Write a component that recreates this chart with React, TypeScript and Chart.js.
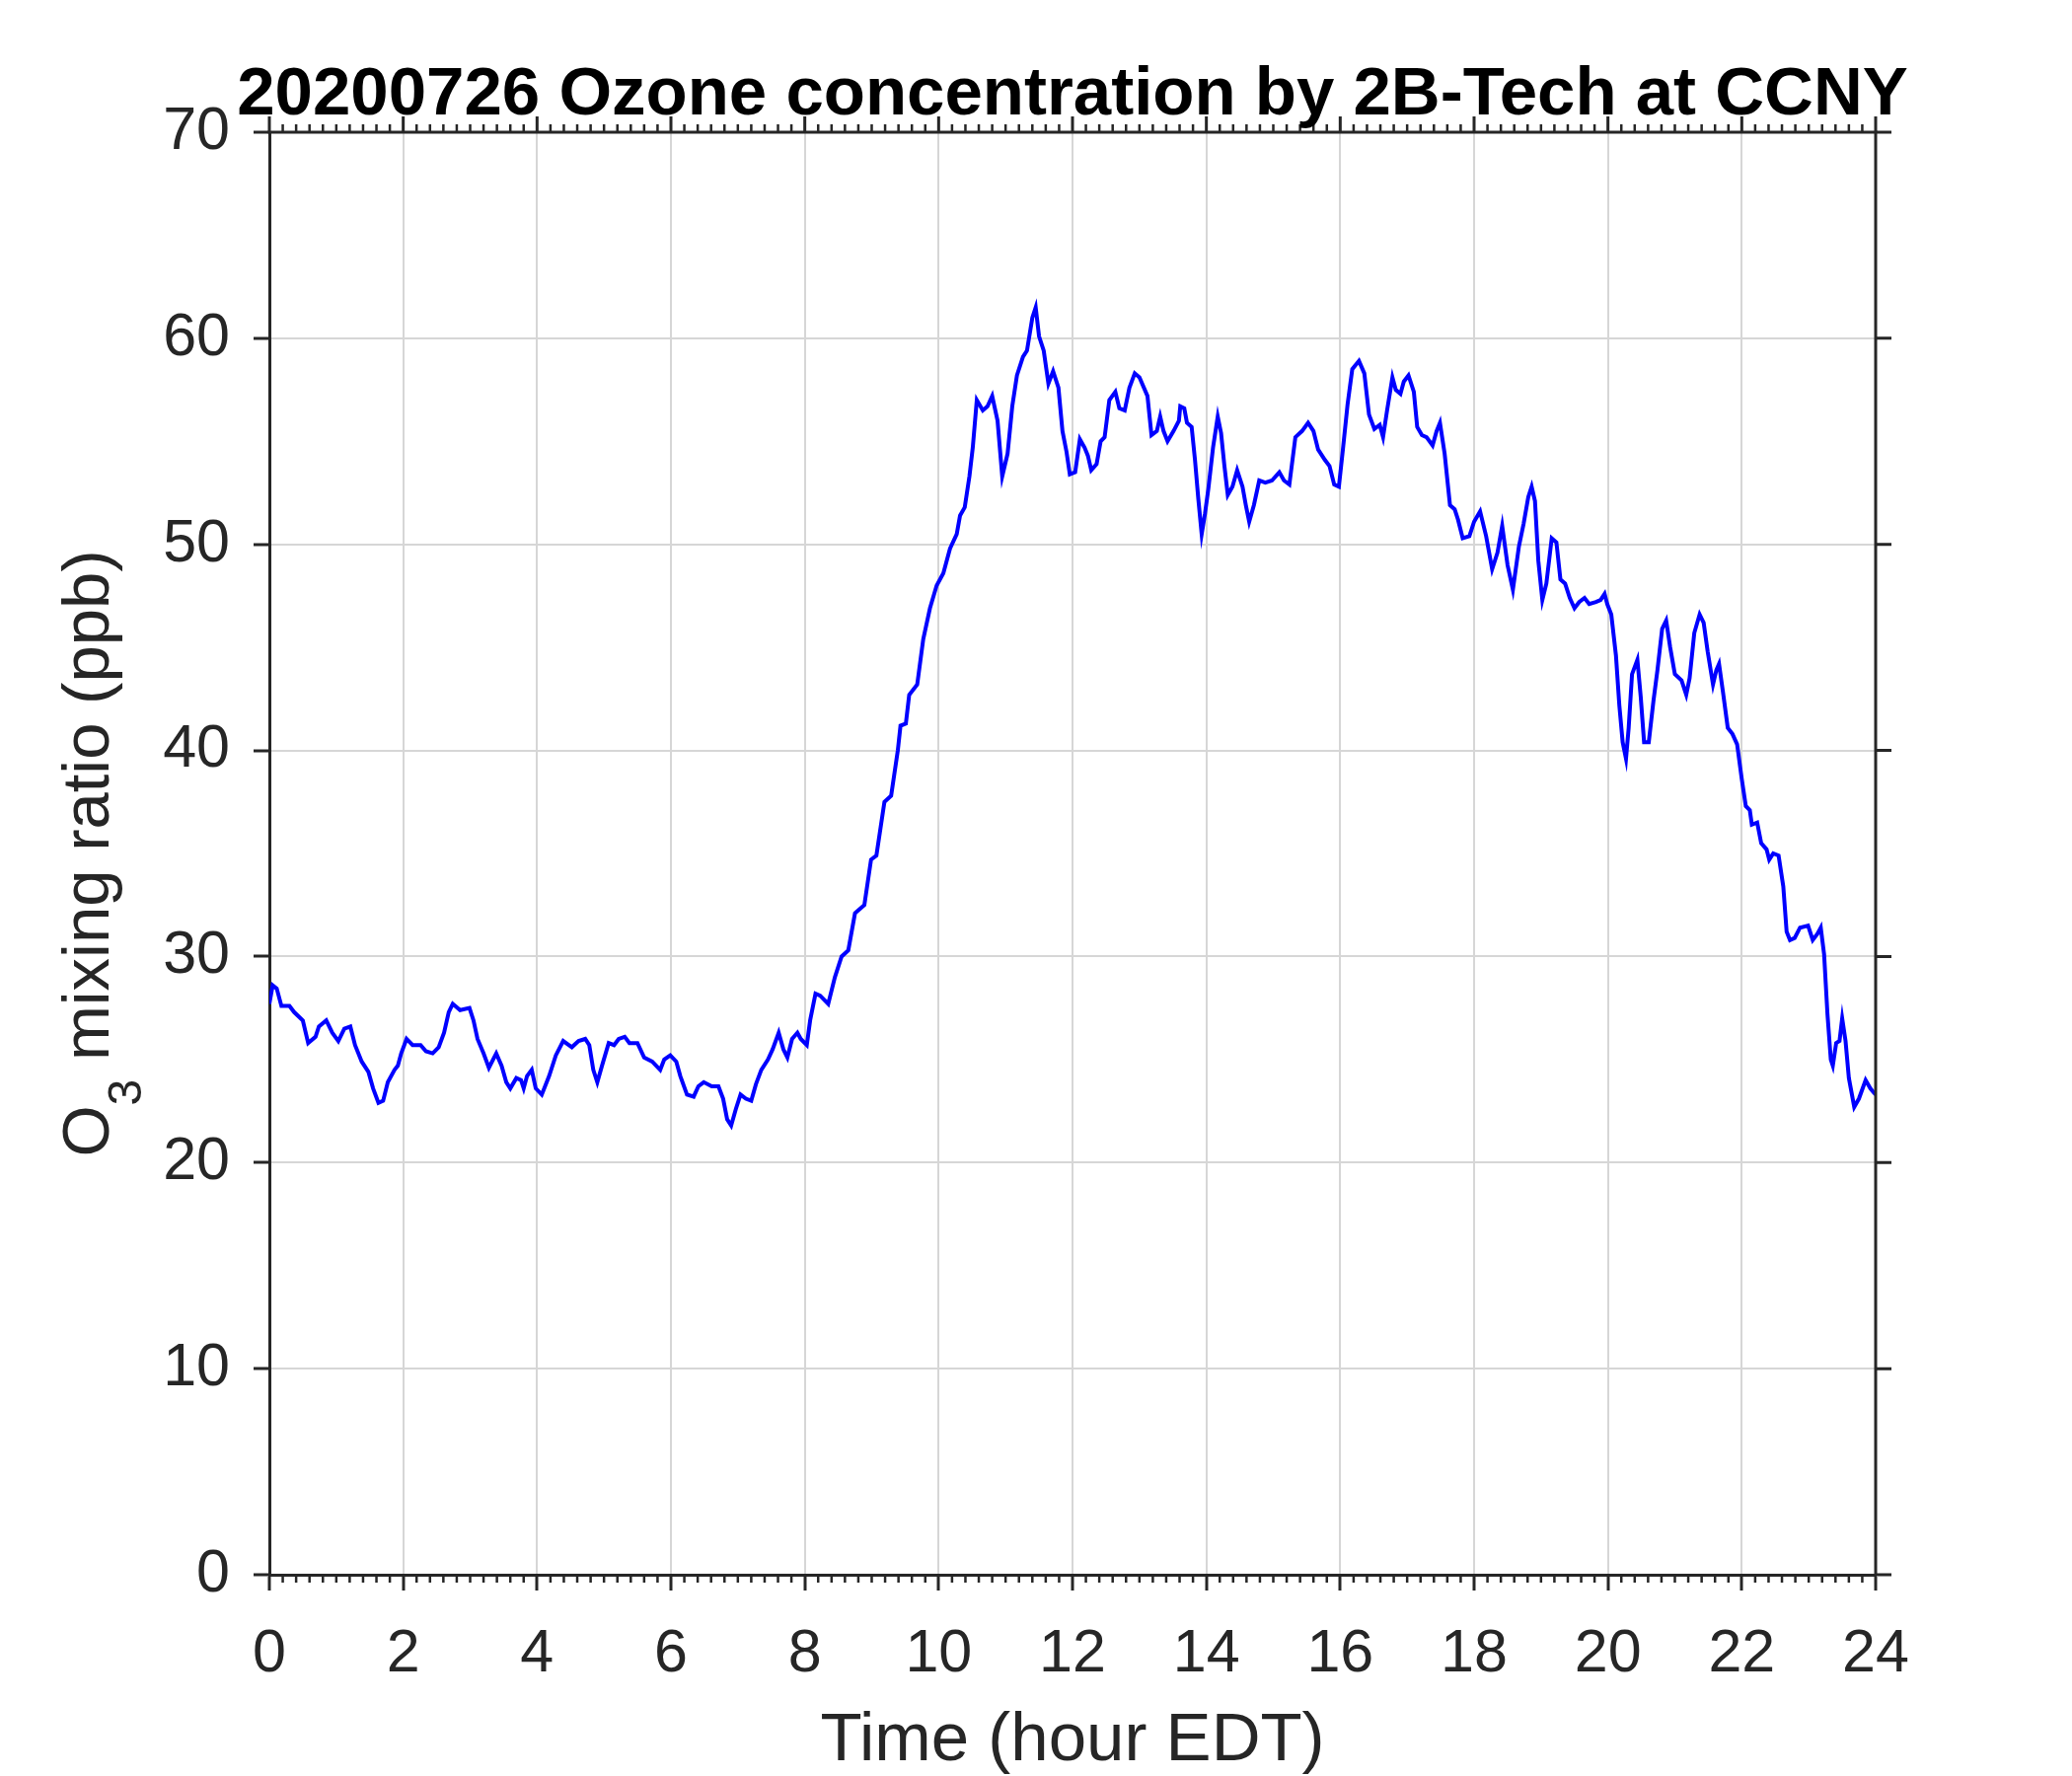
import React, { useEffect, useRef } from "react";
import { Chart, registerables } from "chart.js";

Chart.register(...registerables);

const TITLE = "20200726 Ozone concentration by 2B-Tech at CCNY";
const X_TITLE = "Time (hour EDT)";
const Y_TITLE_MAIN = "O";
const Y_TITLE_SUB = "3";
const Y_TITLE_REST = " mixing ratio (ppb)";

const X_MIN = 0;
const X_MAX = 24;
const X_STEP = 2;
const X_MINOR_STEP = 0.2;
const Y_MIN = 0;
const Y_MAX = 70;
const Y_STEP = 10;

const hours = [
  0.0, 0.05, 0.11, 0.18, 0.3, 0.37, 0.5, 0.58, 0.69, 0.74, 0.85, 0.94, 1.03, 1.12, 1.21, 1.28, 1.38, 1.48, 1.55, 1.63,
  1.7, 1.77, 1.87, 1.92, 1.97, 2.05, 2.14, 2.26, 2.34, 2.44, 2.53, 2.61, 2.68, 2.74, 2.85, 2.99, 3.05, 3.11, 3.2, 3.28,
  3.39, 3.47, 3.54, 3.6, 3.69, 3.76, 3.8, 3.85, 3.92, 3.98, 4.07,
  4.18, 4.28, 4.39, 4.52, 4.62, 4.72, 4.78, 4.84, 4.9, 4.97, 5.07, 5.15, 5.22, 5.31, 5.38, 5.5, 5.6, 5.72, 5.84, 5.9,
  5.99, 6.08, 6.14, 6.24, 6.34, 6.41, 6.49, 6.61, 6.71, 6.78, 6.84, 6.9, 6.97, 7.04, 7.12, 7.2, 7.27, 7.35, 7.45, 7.52,
  7.61, 7.68, 7.74, 7.81, 7.89, 7.94,
  8.03, 8.08, 8.16, 8.23, 8.35, 8.45, 8.55, 8.65, 8.75, 8.89, 8.99, 9.07, 9.19, 9.29, 9.39, 9.43, 9.51, 9.56, 9.68, 9.77,
  9.87, 9.97, 10.07, 10.17, 10.27, 10.32, 10.39, 10.46, 10.51, 10.57, 10.66, 10.73, 10.8, 10.88, 10.95, 11.03, 11.1,
  11.17, 11.26, 11.32, 11.4, 11.45, 11.5, 11.57, 11.64, 11.71, 11.79, 11.85, 11.91,
  11.96, 12.04, 12.11, 12.18, 12.23, 12.28, 12.36, 12.42, 12.48, 12.55, 12.64, 12.7, 12.78, 12.85, 12.93, 13.0, 13.12,
  13.18, 13.26, 13.31, 13.36, 13.42, 13.51, 13.59, 13.61, 13.67, 13.71, 13.78, 13.83, 13.88, 13.93, 13.98, 14.03, 14.1,
  14.17, 14.22, 14.27, 14.32, 14.39, 14.46, 14.54, 14.59, 14.64, 14.71, 14.79, 14.88, 14.98, 15.09, 15.16, 15.24, 15.33,
  15.43, 15.52, 15.6, 15.67, 15.77, 15.84, 15.91, 15.98, 16.04, 16.11, 16.18, 16.28, 16.36, 16.43, 16.51, 16.59, 16.64,
  16.7, 16.78, 16.83, 16.9, 16.95, 17.02, 17.1, 17.15, 17.22, 17.29, 17.38, 17.44, 17.49, 17.56, 17.64, 17.71, 17.76,
  17.83, 17.93,
  18.0, 18.09, 18.18, 18.27, 18.35, 18.42, 18.5, 18.58, 18.67, 18.74, 18.81, 18.86, 18.91, 18.96, 19.02, 19.08, 19.16,
  19.23, 19.29, 19.36, 19.43, 19.5, 19.57, 19.65, 19.72, 19.82, 19.89, 19.95, 19.99, 20.05, 20.12, 20.17, 20.22, 20.27,
  20.31, 20.36, 20.44, 20.49, 20.54, 20.61, 20.68, 20.74, 20.81, 20.87, 20.93, 21.0, 21.1, 21.17, 21.22, 21.29, 21.37,
  21.43, 21.49, 21.57, 21.62, 21.66, 21.72, 21.79, 21.86, 21.93, 22.0, 22.06, 22.12, 22.15, 22.23, 22.29, 22.37, 22.41,
  22.47, 22.55, 22.62, 22.67, 22.72, 22.79, 22.87, 22.99, 23.06, 23.13, 23.18, 23.23, 23.28, 23.33, 23.36, 23.41, 23.46,
  23.5, 23.55, 23.6, 23.68, 23.75, 23.85, 23.92, 23.97, 24.0,
];

const o3 = [
  27.7, 28.6, 28.45, 27.6, 27.6, 27.3, 26.9, 25.8, 26.1, 26.6, 26.9, 26.3, 25.9, 26.5, 26.6, 25.7, 24.9, 24.4, 23.6, 22.9,
  23.0, 23.9, 24.5, 24.7, 25.3, 26.0, 25.7, 25.7, 25.4, 25.3, 25.6, 26.3, 27.3, 27.7, 27.4, 27.5, 26.9, 26.0, 25.3, 24.6,
  25.3, 24.7, 23.9, 23.6, 24.1, 24.0, 23.6, 24.2, 24.5, 23.6, 23.3,
  24.2, 25.2, 25.9, 25.6, 25.9, 26.0, 25.7, 24.5, 23.9, 24.7, 25.8, 25.7, 26.0, 26.1, 25.8, 25.8, 25.1, 24.9, 24.5, 25.0,
  25.2, 24.9, 24.2, 23.3, 23.2, 23.7, 23.9, 23.7, 23.7, 23.1, 22.1, 21.8, 22.6, 23.3, 23.1, 23.0, 23.8, 24.5, 25.0, 25.5,
  26.3, 25.5, 25.1, 26.0, 26.3, 26.0,
  25.7, 26.9, 28.2, 28.1, 27.7, 29.0, 30.0, 30.3, 32.1, 32.5, 34.7, 34.9, 37.5, 37.8, 40.0, 41.2, 41.3, 42.7, 43.2, 45.4,
  46.9, 48.0, 48.6, 49.8, 50.5, 51.4, 51.8, 53.3, 54.7, 57.0, 56.5, 56.7, 57.2, 56.0, 53.3, 54.4, 56.7,
  58.2, 59.1, 59.4, 61.0, 61.5, 60.1, 59.4, 57.8, 58.4, 57.6, 55.5, 54.5,
  53.4, 53.5, 55.1, 54.7, 54.3, 53.6, 53.9, 55.0, 55.2, 57.0, 57.4, 56.6, 56.5, 57.6, 58.3, 58.1, 57.2,
  55.3, 55.5, 56.2, 55.5, 55.0, 55.5, 56.0, 56.7, 56.6, 55.9, 55.7, 54.1, 52.2, 50.5, 51.5, 52.7, 54.7,
  56.2, 55.4, 53.8, 52.4, 52.8, 53.6, 52.8, 51.9, 51.1, 51.9, 53.1, 53.0, 53.1, 53.5, 53.1, 52.9, 55.2,
  55.5, 55.9, 55.5, 54.6, 54.1, 53.8, 52.9, 52.8, 54.6, 56.8, 58.5, 58.9, 58.3, 56.3, 55.6, 55.8, 55.2,
  56.5, 58.1, 57.5, 57.3, 57.9, 58.2, 57.4, 55.7, 55.3, 55.2, 54.8, 55.5, 55.9, 54.4, 51.9, 51.7, 51.2,
  50.3, 50.4,
  51.1, 51.6, 50.4, 48.8, 49.6, 50.9, 49.0, 47.8, 49.9, 51.0, 52.3, 52.8, 52.1, 49.2, 47.3, 48.1, 50.3,
  50.1, 48.3, 48.1, 47.4, 46.9, 47.2, 47.4, 47.1, 47.2, 47.3, 47.6, 47.1, 46.6, 44.6, 42.2, 40.4, 39.6,
  41.1, 43.7, 44.4, 42.6, 40.4, 40.4, 42.4, 43.9, 45.9, 46.3, 45.0, 43.7, 43.4, 42.7, 43.5, 45.7, 46.6,
  46.2, 44.8, 43.2, 43.9, 44.2, 42.8, 41.1, 40.8, 40.3, 38.6, 37.3, 37.1, 36.4, 36.5, 35.5, 35.2, 34.7,
  35.0, 34.9, 33.4, 31.2, 30.8, 30.9, 31.4, 31.5, 30.8, 31.1, 31.4, 30.1, 27.2, 25.0, 24.7, 25.8, 25.9,
  27.0, 25.9, 24.1, 22.7, 23.1, 24.0, 23.6, 23.4, 23.3,
];

const FONT = "'Liberation Sans', Arial, Helvetica, sans-serif";
const AXIS_COLOR = "#262626";
const GRID_COLOR = "#d6d6d6";
const LINE_COLOR = "#0000ff";

const frame = {
  id: "matlabFrame",
  afterDraw(chart: any) {
    const { ctx, chartArea } = chart;
    const xs = chart.scales.x;
    const ys = chart.scales.y;
    const { left, right, top, bottom } = chartArea;
    ctx.save();
    ctx.strokeStyle = AXIS_COLOR;
    ctx.lineWidth = 3;
    ctx.lineCap = "butt";
    ctx.beginPath();
    ctx.moveTo(left - 1.5, top);
    ctx.lineTo(right + 1.5, top);
    ctx.moveTo(right, top);
    ctx.lineTo(right, bottom);
    ctx.stroke();
    ctx.beginPath();
    xs.ticks.forEach((t: any) => {
      const px = xs.getPixelForValue(t.value);
      ctx.moveTo(px, top);
      ctx.lineTo(px, top - 16);
    });
    ys.ticks.forEach((t: any) => {
      const py = ys.getPixelForValue(t.value);
      ctx.moveTo(right, py);
      ctx.lineTo(right + 16, py);
    });
    ctx.stroke();
    ctx.lineWidth = 2.5;
    ctx.beginPath();
    const n = Math.round((X_MAX - X_MIN) / X_MINOR_STEP);
    const per = Math.round(X_STEP / X_MINOR_STEP);
    for (let i = 0; i <= n; i++) {
      if (i % per === 0) continue;
      const px = xs.getPixelForValue(X_MIN + i * X_MINOR_STEP);
      ctx.moveTo(px, top);
      ctx.lineTo(px, top - 8);
      ctx.moveTo(px, bottom);
      ctx.lineTo(px, bottom + 8);
    }
    ctx.stroke();

    ctx.fillStyle = "#000000";
    ctx.font = `bold 69px ${FONT}`;
    ctx.textAlign = "center";
    ctx.textBaseline = "alphabetic";
    ctx.fillText(TITLE, (left + right) / 2, 116);

    ctx.fillStyle = AXIS_COLOR;
    ctx.font = `69px ${FONT}`;
    ctx.fillText(X_TITLE, (left + right) / 2, 1784);

    const mainFont = `67px ${FONT}`;
    const subFont = `48px ${FONT}`;
    ctx.font = mainFont;
    const wO = ctx.measureText(Y_TITLE_MAIN).width;
    const wRest = ctx.measureText(Y_TITLE_REST).width;
    ctx.font = subFont;
    const wSub = ctx.measureText(Y_TITLE_SUB).width;
    const total = wO + wSub + wRest;
    ctx.translate(110, (top + bottom) / 2);
    ctx.rotate(-Math.PI / 2);
    ctx.textAlign = "left";
    let cx = -total / 2;
    ctx.font = mainFont;
    ctx.fillText(Y_TITLE_MAIN, cx, 0);
    cx += wO;
    ctx.font = subFont;
    ctx.fillText(Y_TITLE_SUB, cx, 33);
    cx += wSub;
    ctx.font = mainFont;
    ctx.fillText(Y_TITLE_REST, cx, 0);
    ctx.restore();
  },
};

export default function App() {
  const ref = useRef<HTMLCanvasElement | null>(null);
  useEffect(() => {
    if (!ref.current) return;
    const chart = new Chart(ref.current, {
      type: "line",
      data: {
        datasets: [
          {
            data: hours.map((h, i) => ({ x: h, y: o3[i] })),
            borderColor: LINE_COLOR,
            borderWidth: 4,
            pointRadius: 0,
            tension: 0,
            fill: false,
          },
        ],
      },
      options: {
        responsive: false,
        animation: false,
        layout: { padding: { left: 0, top: 134, right: 199, bottom: 0 } },
        plugins: { legend: { display: false }, tooltip: { enabled: false }, title: { display: false } },
        scales: {
          x: {
            type: "linear",
            min: X_MIN,
            max: X_MAX,
            ticks: { stepSize: X_STEP, color: AXIS_COLOR, font: { family: FONT, size: 61 }, padding: 29, maxRotation: 0 },
            grid: { color: GRID_COLOR, lineWidth: 2, tickColor: AXIS_COLOR, tickLength: 16, tickWidth: 3 },
            border: { display: true, color: AXIS_COLOR, width: 3 },
            afterFit: (s: any) => {
              s.height = 204;
            },
          },
          y: {
            type: "linear",
            min: Y_MIN,
            max: Y_MAX,
            ticks: { stepSize: Y_STEP, color: AXIS_COLOR, font: { family: FONT, size: 61 }, padding: 24 },
            grid: { color: GRID_COLOR, lineWidth: 2, tickColor: AXIS_COLOR, tickLength: 16, tickWidth: 3 },
            border: { display: true, color: AXIS_COLOR, width: 3 },
            afterFit: (s: any) => {
              s.width = 273;
            },
          },
        },
      },
      plugins: [frame],
    });
    return () => chart.destroy();
  }, []);
  return (
    <div style={{ position: "fixed", left: 0, top: 0, width: 2100, height: 1800, background: "#fff" }}>
      <canvas ref={ref} width={2100} height={1800} style={{ width: 2100, height: 1800, display: "block" }} />
    </div>
  );
}
